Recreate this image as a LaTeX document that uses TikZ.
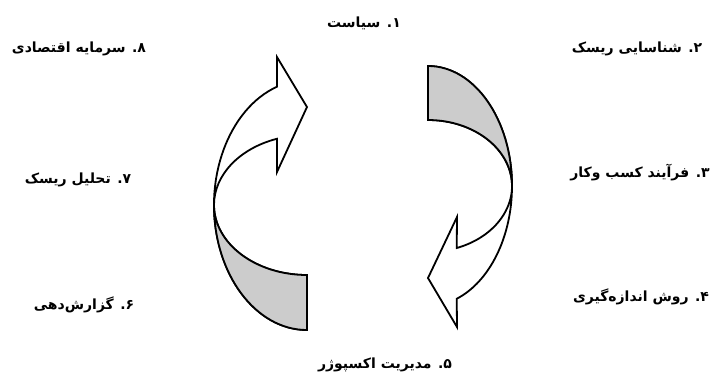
\documentclass[tikz,border=0pt]{standalone}
\usepackage{fontspec}
\usetikzlibrary{calc}
\newfontfamily\farsifont[Script=Arabic]{DejaVu Sans}
\TeXXeTstate=1
\newcommand{\fatext}[1]{{\farsifont\bfseries\beginR #1\endR}}
\begin{document}
\begin{tikzpicture}[x=1pt,y=-1pt,
  band/.style={draw=black,line width=1.8pt,fill=white},
  backside/.style={draw=black,line width=1.8pt,fill=black!20},
  lbl/.style={font=\fontsize{14}{16}\selectfont,inner sep=0pt}]
\useasboundingbox (0,0) rectangle (713,376);
% left arrow, turning up
\coordinate (cL) at (307,205);
\draw[band] ($(cL)+(251.2:93 and 125)$) arc[start angle=251.2,end angle=90,x radius=93,y radius=125]
  -- ($(cL)+(90:93 and 70)$) arc[start angle=90,end angle=251.2,x radius=93,y radius=70]
  -- (277,172) -- (307,107) -- (277,57) -- cycle;
\draw[backside] ($(cL)+(180:93 and 125)$) arc[start angle=180,end angle=90,x radius=93,y radius=125]
  -- ($(cL)+(90:93 and 70)$) arc[start angle=90,end angle=180,x radius=93,y radius=70] -- cycle;
% right arrow, turning down
\coordinate (cR) at (428,186);
\draw[band] ($(cR)+(-90:84 and 120)$) arc[start angle=-90,end angle=70,x radius=84,y radius=120]
  -- (457,327) -- (428,278) -- (457,217)
  -- ($(cR)+(70:84 and 66)$) arc[start angle=70,end angle=-90,x radius=84,y radius=66] -- cycle;
\draw[backside] ($(cR)+(-90:84 and 120)$) arc[start angle=-90,end angle=0,x radius=84,y radius=120]
  -- ($(cR)+(0:84 and 66)$) arc[start angle=0,end angle=-90,x radius=84,y radius=66] -- cycle;
% labels
\node[lbl] (policy) at (364,23) {\fatext{۱. سیاست}};
\node[lbl] (identify) at (637,49) {\fatext{۲. شناسایی ریسک}};
\node[lbl] (process) at (640,173) {\fatext{۳. فرآیند کسب وکار}};
\node[lbl] (measure) at (641,297) {\fatext{۴. روش اندازه‌گیری}};
\node[lbl] (exposure) at (385,365) {\fatext{۵. مدیریت اکسپوژر}};
\node[lbl] (report) at (84,305) {\fatext{۶. گزارش‌دهی}};
\node[lbl] (analysis) at (78,180) {\fatext{۷. تحلیل ریسک}};
\node[lbl] (capital) at (79,49) {\fatext{۸. سرمایه اقتصادی}};
\end{tikzpicture}
\end{document}
